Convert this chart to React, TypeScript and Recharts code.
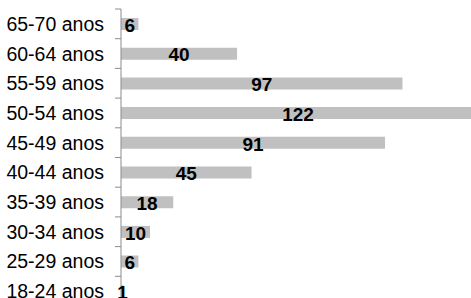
import React from 'react';
import { BarChart, Bar, XAxis, YAxis, LabelList } from 'recharts';

const faixas = ['65-70 anos', '60-64 anos', '55-59 anos', '50-54 anos', '45-49 anos', '40-44 anos', '35-39 anos', '30-34 anos', '25-29 anos', '18-24 anos'];
const totais = [6, 40, 97, 122, 91, 45, 18, 10, 6, 1];

const data = faixas.map((faixa, i) => ({ faixa, total: totais[i] }));

const CHART_H = 306;
const TOP = 9;
const BAND = (CHART_H - TOP) / faixas.length;

const FaixaTick = (props: any) => {
    const { x, y, payload } = props;
    return (
        <g>
            <line x1={x - 6} x2={x} y1={y - BAND / 2} y2={y - BAND / 2} stroke="#8c8c8c" />
            <text x={x - 17} y={y} dy={7} textAnchor="end" fontSize={19.5} fill="#000" fontFamily="'Liberation Sans', Arial, sans-serif">
                {payload.value}
            </text>
        </g>
    );
};

const App = () => {
    return (
        <div style={{ width: 471, height: 298, overflow: 'hidden', background: '#fff' }}>
            <style>{'body{margin:0}'}</style>
            <BarChart
                width={475}
                height={CHART_H}
                data={data}
                layout="vertical"
                margin={{ top: TOP, right: 0, left: 0, bottom: 0 }}
                barCategoryGap={0}
            >
                <XAxis type="number" domain={[0, 122]} hide />
                <YAxis
                    type="category"
                    dataKey="faixa"
                    width={121}
                    axisLine={{ stroke: '#8c8c8c' }}
                    tickLine={false}
                    tickSize={0}
                    tickMargin={0}
                    tick={<FaixaTick />}
                    interval={0}
                />
                <Bar dataKey="total" fill="#c0c0c0" barSize={12} isAnimationActive={false}>
                    <LabelList
                        dataKey="total"
                        position="center"
                        fill="#000"
                        fontSize={19}
                        fontWeight="bold"
                        fontFamily="'Liberation Sans', Arial, sans-serif"
                        dy={1}
                    />
                </Bar>
            </BarChart>
        </div>
    );
};

export default App;
